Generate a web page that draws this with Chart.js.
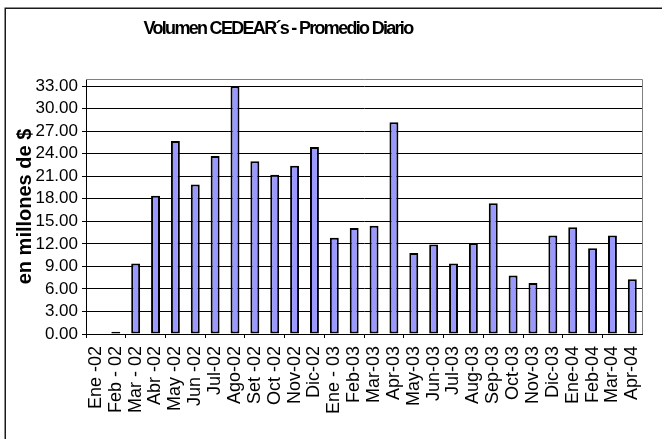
<!DOCTYPE html>
<html>
<head>
<meta charset="utf-8">
<script src="https://cdn.jsdelivr.net/npm/chart.js@4/dist/chart.umd.min.js"></script>
<style>
  html, body { margin: 0; padding: 0; background: #fff; }
  #wrap { width: 662px; height: 439px; position: relative; }
</style>
</head>
<body>
<div id="wrap"><canvas id="c" width="662" height="439"></canvas></div>
<script>
// Monthly categories
const months = [
  "Ene -02", "Feb - 02", "Mar - 02", "Abr -02", "May -02", "Jun -02", "Jul-02",
  "Ago-02", "Set -02", "Oct -02", "Nov-02", "Dic-02", "Ene - 03", "Feb-03",
  "Mar-03", "Apr-03", "May-03", "Jun-03", "Jul-03", "Aug-03", "Sep-03",
  "Oct-03", "Nov-03", "Dic-03", "Ene-04", "Feb-04", "Mar-04", "Apr-04"
];

// Average daily volume, millions of $
const volumen = [
  0, 0.3, 9.4, 18.4, 25.7, 19.9, 23.7,
  33.0, 23.0, 21.2, 22.4, 24.9, 12.8, 14.1,
  14.4, 28.2, 10.8, 11.9, 9.4, 12.1, 17.4,
  7.8, 6.8, 13.1, 14.2, 11.4, 13.1, 7.3
];

// Y axis tick values
const yTicks = [0, 3, 6, 9, 12, 15, 18, 21, 24, 27, 30, 33];

const titleText = "Volumen CEDEAR\u00B4s - Promedio Diario";

// Outer frame, plot frame and title
const decorations = {
  id: 'decorations',
  beforeDraw(chart) {
    const ctx = chart.ctx;
    ctx.save();
    ctx.fillStyle = '#fff';
    ctx.fillRect(0, 0, chart.width, chart.height);
    ctx.strokeStyle = '#1a1a1a';
    ctx.lineWidth = 1.5;
    ctx.strokeRect(5.25, 8.25, 720, 520);
    ctx.restore();
  },
  beforeDatasetsDraw(chart) {
    const ctx = chart.ctx;
    const a = chart.chartArea;
    ctx.save();
    ctx.strokeStyle = '#808080';
    ctx.lineWidth = 1;
    ctx.beginPath();
    ctx.moveTo(a.left, Math.round(a.top) + 0.5);
    ctx.lineTo(Math.round(a.right) + 0.5, Math.round(a.top) + 0.5);
    ctx.lineTo(Math.round(a.right) + 0.5, a.bottom);
    ctx.stroke();
    ctx.restore();
  },
  afterDraw(chart) {
    const ctx = chart.ctx;
    ctx.save();
    ctx.fillStyle = '#000';
    ctx.font = 'bold 18px "Liberation Sans", Arial, sans-serif';
    ctx.letterSpacing = '-1.7px';
    ctx.textAlign = 'center';
    ctx.textBaseline = 'alphabetic';
    ctx.fillText(titleText, 278, 34);
    ctx.restore();
  }
};

new Chart(document.getElementById('c'), {
  type: 'bar',
  data: {
    labels: months,
    datasets: [{
      data: volumen,
      backgroundColor: '#9999FF',
      borderColor: '#000',
      borderWidth: 2,
      borderSkipped: false,
      barPercentage: 0.45,
      categoryPercentage: 1.0
    }]
  },
  options: {
    responsive: false,
    animation: false,
    layout: { padding: { top: 79, right: 5, bottom: 0, left: 0 } },
    plugins: {
      legend: { display: false },
      tooltip: { enabled: false },
      title: { display: false }
    },
    scales: {
      x: {
        offset: true,
        grid: {
          offset: true,
          drawOnChartArea: false,
          tickLength: 4,
          tickColor: (c) => (c.index % 2 === 0 ? '#000' : 'rgba(0,0,0,0)'),
          lineWidth: 1
        },
        border: { color: '#000', width: 1 },
        ticks: {
          autoSkip: false,
          minRotation: 90,
          maxRotation: 90,
          padding: 8,
          color: '#000',
          font: { family: '"Liberation Sans", Arial, sans-serif', size: 18 }
        },
        afterFit(scale) { scale.height = 105; }
      },
      y: {
        min: 0,
        max: 33.95,
        afterBuildTicks(scale) {
          scale.ticks = yTicks.map(v => ({ value: v }));
        },
        grid: {
          color: '#000',
          lineWidth: 1,
          tickLength: 4,
          tickColor: '#000'
        },
        border: { color: '#000', width: 1 },
        ticks: {
          autoSkip: false,
          padding: 4,
          color: '#000',
          font: { family: '"Liberation Sans", Arial, sans-serif', size: 17 },
          callback: (v) => Number(v).toFixed(2)
        },
        title: {
          display: true,
          text: 'en millones de $',
          color: '#000',
          padding: { top: 13, bottom: 0 },
          font: { family: '"Liberation Sans", Arial, sans-serif', size: 20, weight: 'bold' }
        },
        afterFit(scale) { scale.width = 86; }
      }
    }
  },
  plugins: [decorations]
});
</script>
</body>
</html>
